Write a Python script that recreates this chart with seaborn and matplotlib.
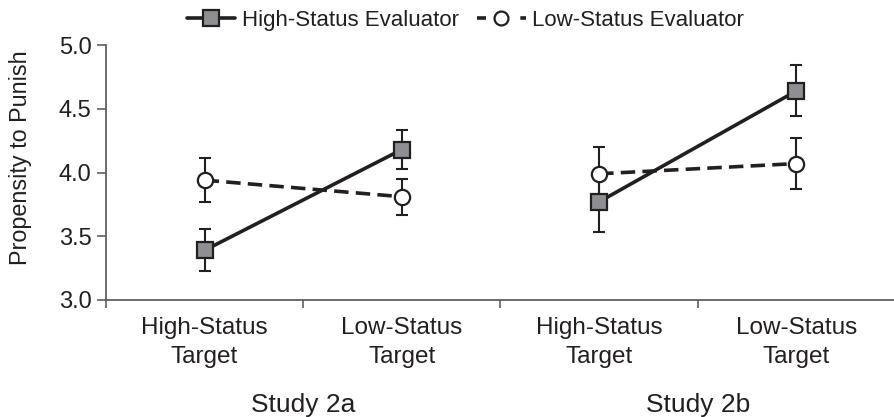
import pandas as pd
import matplotlib
matplotlib.use("Agg")
import matplotlib.pyplot as plt
from matplotlib.lines import Line2D
import seaborn as sns

# data
studies = ["Study 2a", "Study 2a", "Study 2b", "Study 2b"]
targets = ["High-Status\nTarget", "Low-Status\nTarget", "High-Status\nTarget", "Low-Status\nTarget"]
high_mean = [3.39, 4.18, 3.77, 4.64]
high_err = [0.165, 0.15, 0.24, 0.20]
low_mean = [3.94, 3.81, 3.99, 4.07]
low_err = [0.17, 0.14, 0.21, 0.20]
study_names = ["Study 2a", "Study 2b"]
y_ticks = [3.0, 3.5, 4.0, 4.5, 5.0]

INK = "#231f20"
SQUARE_FILL = "#8e8f93"
SPINE = "#606060"

sns.set_style("ticks")
plt.rcParams['font.family'] = ['Liberation Sans', 'DejaVu Sans']

pos = list(range(len(targets)))
df = pd.DataFrame({
    "pos": pos * 2,
    "study": studies * 2,
    "mean": high_mean + low_mean,
    "err": high_err + low_err,
    "evaluator": ["High-Status Evaluator"] * 4 + ["Low-Status Evaluator"] * 4,
})

fig = plt.figure(figsize=(8.95, 4.17), dpi=100)
ax = fig.add_axes([106 / 895, 117 / 417, 789 / 895, 255 / 417])

styles = {
    "Low-Status Evaluator": dict(marker="o", markerfacecolor="white", linestyle=(0, (4, 2))),
    "High-Status Evaluator": dict(marker="s", markerfacecolor=SQUARE_FILL, linestyle="-"),
}
for name in ["Low-Status Evaluator", "High-Status Evaluator"]:
    sub = df[df["evaluator"] == name]
    ax.errorbar(sub["pos"], sub["mean"], yerr=sub["err"], fmt="none",
                ecolor=INK, elinewidth=1.5, capsize=4, capthick=1.5, zorder=2)
    sns.lineplot(data=sub, x="pos", y="mean", units="study", estimator=None,
                 color=INK, linewidth=2.6, markersize=11,
                 markeredgecolor=INK, markeredgewidth=1.6, ax=ax, zorder=3,
                 **styles[name])

ax.set_ylim(3.0, 5.0)
ax.set_yticks(y_ticks)
ax.set_yticklabels([f"{v:.1f}" for v in y_ticks])
ax.set_xlim(-0.5, -0.5 + 789 / 200)
ax.set_xticks([p - 0.5 for p in pos] + [3.5])
ax.set_xticklabels([])
ax.set_xticks(pos, minor=True)
ax.set_xticklabels(targets, minor=True, linespacing=1.4)
ax.tick_params(axis="x", which="major", length=6, width=1.2, color=SPINE, direction="out")
ax.tick_params(axis="x", which="minor", length=0, pad=12.5, labelsize=17.5, labelcolor=INK)
ax.tick_params(axis="y", length=6.5, width=1.2, color=SPINE, pad=4, labelsize=17, labelcolor=INK)
ax.set_xlabel("")
ax.set_ylabel("Propensity to Punish", fontsize=16.8, color=INK)
ax.yaxis.set_label_coords(-0.094, 0.56)

for side in ["top", "right"]:
    ax.spines[side].set_visible(False)
for side in ["left", "bottom"]:
    ax.spines[side].set_color(SPINE)
    ax.spines[side].set_linewidth(1.3)

for i, s in enumerate(study_names):
    ax.text(2 * i + 0.5, -0.41, s, transform=ax.get_xaxis_transform(),
            ha="center", va="center", fontsize=19, color=INK)

handles = [
    Line2D([], [], color=INK, linewidth=2.6, marker="s", markersize=11,
           markerfacecolor=SQUARE_FILL, markeredgecolor=INK, markeredgewidth=1.6),
    Line2D([], [], color=INK, linewidth=2.6, marker="o", markersize=10,
           markerfacecolor="white", markeredgecolor=INK, markeredgewidth=1.6,
           linestyle=(0, (2.5, 3.5))),
]
fig.legend(handles, ["High-Status Evaluator", "Low-Status Evaluator"],
           loc="center", bbox_to_anchor=(0.52, 0.952), ncol=2, frameon=False,
           fontsize=16, handlelength=2.2, handletextpad=0.3, columnspacing=0.8,
           labelcolor=INK)

fig.savefig("out.png", dpi=100)
